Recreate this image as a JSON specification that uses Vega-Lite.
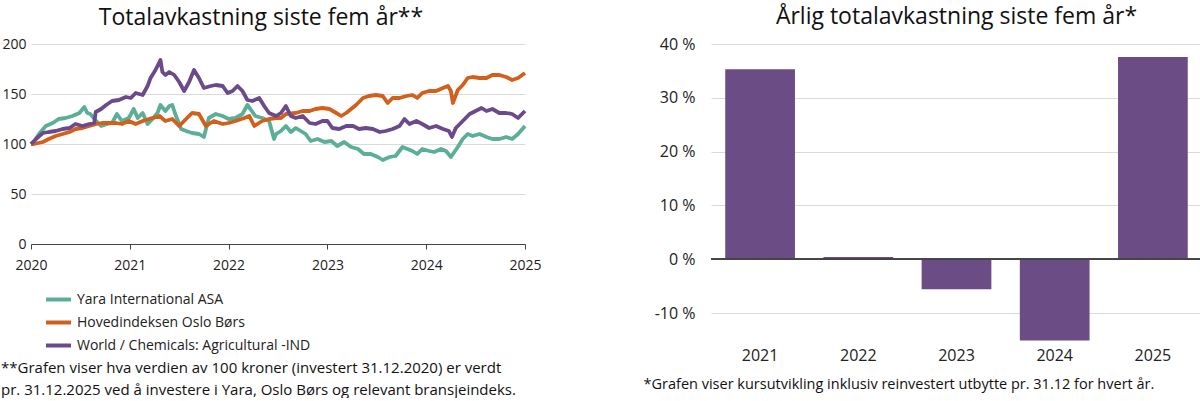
{
  "$schema": "https://vega.github.io/schema/vega-lite/v6.json",
  "padding": {"left": 1, "top": 6, "right": 0, "bottom": 0},
  "background": "white",
  "config": {
    "font": "Open Sans",
    "view": {"stroke": null},
    "title": {"fontSize": 23, "fontWeight": "normal", "color": "#111111", "font": "Open Sans"},
    "axis": {"labelFont": "Open Sans", "titleFont": "Open Sans", "labelColor": "#222222", "gridColor": "#dadada", "titleColor": "#111111"},
    "legend": {"labelFont": "Open Sans", "titleFont": "Open Sans", "labelColor": "#222222", "titleColor": "#111111"}
  },
  "spacing": 101,
  "hconcat": [
    {
      "width": 494,
      "height": 200,
      "title": {"text": "Totalavkastning siste fem år**", "offset": 7, "dx": -17},
      "data": {"values": [
        {"t": 2020.00, "s": "Yara International ASA", "v": 100},
        {"t": 2020.03, "s": "Yara International ASA", "v": 102},
        {"t": 2020.08, "s": "Yara International ASA", "v": 110},
        {"t": 2020.15, "s": "Yara International ASA", "v": 118},
        {"t": 2020.22, "s": "Yara International ASA", "v": 121},
        {"t": 2020.28, "s": "Yara International ASA", "v": 125},
        {"t": 2020.35, "s": "Yara International ASA", "v": 126},
        {"t": 2020.42, "s": "Yara International ASA", "v": 128},
        {"t": 2020.49, "s": "Yara International ASA", "v": 131},
        {"t": 2020.54, "s": "Yara International ASA", "v": 137},
        {"t": 2020.57, "s": "Yara International ASA", "v": 131},
        {"t": 2020.60, "s": "Yara International ASA", "v": 130},
        {"t": 2020.66, "s": "Yara International ASA", "v": 123},
        {"t": 2020.71, "s": "Yara International ASA", "v": 118},
        {"t": 2020.77, "s": "Yara International ASA", "v": 120},
        {"t": 2020.82, "s": "Yara International ASA", "v": 121},
        {"t": 2020.87, "s": "Yara International ASA", "v": 130},
        {"t": 2020.92, "s": "Yara International ASA", "v": 123},
        {"t": 2020.99, "s": "Yara International ASA", "v": 126},
        {"t": 2021.04, "s": "Yara International ASA", "v": 135},
        {"t": 2021.08, "s": "Yara International ASA", "v": 126},
        {"t": 2021.13, "s": "Yara International ASA", "v": 131},
        {"t": 2021.18, "s": "Yara International ASA", "v": 120},
        {"t": 2021.23, "s": "Yara International ASA", "v": 125},
        {"t": 2021.28, "s": "Yara International ASA", "v": 131},
        {"t": 2021.31, "s": "Yara International ASA", "v": 139},
        {"t": 2021.36, "s": "Yara International ASA", "v": 133},
        {"t": 2021.40, "s": "Yara International ASA", "v": 138},
        {"t": 2021.43, "s": "Yara International ASA", "v": 139},
        {"t": 2021.46, "s": "Yara International ASA", "v": 130},
        {"t": 2021.52, "s": "Yara International ASA", "v": 115},
        {"t": 2021.57, "s": "Yara International ASA", "v": 113},
        {"t": 2021.63, "s": "Yara International ASA", "v": 111},
        {"t": 2021.70, "s": "Yara International ASA", "v": 110},
        {"t": 2021.75, "s": "Yara International ASA", "v": 107},
        {"t": 2021.80, "s": "Yara International ASA", "v": 126},
        {"t": 2021.87, "s": "Yara International ASA", "v": 130},
        {"t": 2021.94, "s": "Yara International ASA", "v": 128},
        {"t": 2022.00, "s": "Yara International ASA", "v": 125},
        {"t": 2022.07, "s": "Yara International ASA", "v": 126},
        {"t": 2022.14, "s": "Yara International ASA", "v": 130},
        {"t": 2022.19, "s": "Yara International ASA", "v": 139},
        {"t": 2022.22, "s": "Yara International ASA", "v": 135},
        {"t": 2022.27, "s": "Yara International ASA", "v": 128},
        {"t": 2022.34, "s": "Yara International ASA", "v": 126},
        {"t": 2022.41, "s": "Yara International ASA", "v": 123},
        {"t": 2022.46, "s": "Yara International ASA", "v": 105},
        {"t": 2022.48, "s": "Yara International ASA", "v": 110},
        {"t": 2022.53, "s": "Yara International ASA", "v": 113},
        {"t": 2022.58, "s": "Yara International ASA", "v": 118},
        {"t": 2022.63, "s": "Yara International ASA", "v": 112},
        {"t": 2022.68, "s": "Yara International ASA", "v": 116},
        {"t": 2022.73, "s": "Yara International ASA", "v": 113},
        {"t": 2022.78, "s": "Yara International ASA", "v": 110},
        {"t": 2022.83, "s": "Yara International ASA", "v": 103},
        {"t": 2022.90, "s": "Yara International ASA", "v": 105},
        {"t": 2022.97, "s": "Yara International ASA", "v": 102},
        {"t": 2023.04, "s": "Yara International ASA", "v": 103},
        {"t": 2023.10, "s": "Yara International ASA", "v": 98},
        {"t": 2023.17, "s": "Yara International ASA", "v": 102},
        {"t": 2023.24, "s": "Yara International ASA", "v": 97},
        {"t": 2023.31, "s": "Yara International ASA", "v": 95},
        {"t": 2023.37, "s": "Yara International ASA", "v": 90},
        {"t": 2023.44, "s": "Yara International ASA", "v": 90},
        {"t": 2023.51, "s": "Yara International ASA", "v": 87},
        {"t": 2023.56, "s": "Yara International ASA", "v": 84},
        {"t": 2023.63, "s": "Yara International ASA", "v": 87},
        {"t": 2023.69, "s": "Yara International ASA", "v": 88},
        {"t": 2023.76, "s": "Yara International ASA", "v": 97},
        {"t": 2023.81, "s": "Yara International ASA", "v": 95},
        {"t": 2023.86, "s": "Yara International ASA", "v": 93},
        {"t": 2023.91, "s": "Yara International ASA", "v": 90},
        {"t": 2023.96, "s": "Yara International ASA", "v": 95},
        {"t": 2024.03, "s": "Yara International ASA", "v": 93},
        {"t": 2024.08, "s": "Yara International ASA", "v": 92},
        {"t": 2024.15, "s": "Yara International ASA", "v": 95},
        {"t": 2024.20, "s": "Yara International ASA", "v": 93},
        {"t": 2024.25, "s": "Yara International ASA", "v": 87},
        {"t": 2024.32, "s": "Yara International ASA", "v": 97},
        {"t": 2024.37, "s": "Yara International ASA", "v": 105},
        {"t": 2024.42, "s": "Yara International ASA", "v": 110},
        {"t": 2024.47, "s": "Yara International ASA", "v": 108},
        {"t": 2024.54, "s": "Yara International ASA", "v": 110},
        {"t": 2024.61, "s": "Yara International ASA", "v": 107},
        {"t": 2024.67, "s": "Yara International ASA", "v": 105},
        {"t": 2024.74, "s": "Yara International ASA", "v": 105},
        {"t": 2024.81, "s": "Yara International ASA", "v": 107},
        {"t": 2024.87, "s": "Yara International ASA", "v": 105},
        {"t": 2024.93, "s": "Yara International ASA", "v": 110},
        {"t": 2025.00, "s": "Yara International ASA", "v": 118},
        {"t": 2020.00, "s": "Hovedindeksen Oslo Børs", "v": 100},
        {"t": 2020.03, "s": "Hovedindeksen Oslo Børs", "v": 100},
        {"t": 2020.12, "s": "Hovedindeksen Oslo Børs", "v": 102},
        {"t": 2020.18, "s": "Hovedindeksen Oslo Børs", "v": 105},
        {"t": 2020.25, "s": "Hovedindeksen Oslo Børs", "v": 108},
        {"t": 2020.32, "s": "Hovedindeksen Oslo Børs", "v": 110},
        {"t": 2020.39, "s": "Hovedindeksen Oslo Børs", "v": 112},
        {"t": 2020.45, "s": "Hovedindeksen Oslo Børs", "v": 115},
        {"t": 2020.52, "s": "Hovedindeksen Oslo Børs", "v": 116},
        {"t": 2020.59, "s": "Hovedindeksen Oslo Børs", "v": 118},
        {"t": 2020.66, "s": "Hovedindeksen Oslo Børs", "v": 120},
        {"t": 2020.72, "s": "Hovedindeksen Oslo Børs", "v": 121},
        {"t": 2020.79, "s": "Hovedindeksen Oslo Børs", "v": 121},
        {"t": 2020.86, "s": "Hovedindeksen Oslo Børs", "v": 121},
        {"t": 2020.92, "s": "Hovedindeksen Oslo Børs", "v": 120},
        {"t": 2020.99, "s": "Hovedindeksen Oslo Børs", "v": 123},
        {"t": 2021.06, "s": "Hovedindeksen Oslo Børs", "v": 120},
        {"t": 2021.13, "s": "Hovedindeksen Oslo Børs", "v": 123},
        {"t": 2021.23, "s": "Hovedindeksen Oslo Børs", "v": 126},
        {"t": 2021.30, "s": "Hovedindeksen Oslo Børs", "v": 128},
        {"t": 2021.36, "s": "Hovedindeksen Oslo Børs", "v": 123},
        {"t": 2021.43, "s": "Hovedindeksen Oslo Børs", "v": 125},
        {"t": 2021.50, "s": "Hovedindeksen Oslo Børs", "v": 118},
        {"t": 2021.57, "s": "Hovedindeksen Oslo Børs", "v": 125},
        {"t": 2021.63, "s": "Hovedindeksen Oslo Børs", "v": 131},
        {"t": 2021.70, "s": "Hovedindeksen Oslo Børs", "v": 130},
        {"t": 2021.77, "s": "Hovedindeksen Oslo Børs", "v": 118},
        {"t": 2021.85, "s": "Hovedindeksen Oslo Børs", "v": 123},
        {"t": 2021.94, "s": "Hovedindeksen Oslo Børs", "v": 120},
        {"t": 2022.00, "s": "Hovedindeksen Oslo Børs", "v": 121},
        {"t": 2022.07, "s": "Hovedindeksen Oslo Børs", "v": 123},
        {"t": 2022.16, "s": "Hovedindeksen Oslo Børs", "v": 126},
        {"t": 2022.21, "s": "Hovedindeksen Oslo Børs", "v": 128},
        {"t": 2022.26, "s": "Hovedindeksen Oslo Børs", "v": 118},
        {"t": 2022.34, "s": "Hovedindeksen Oslo Børs", "v": 123},
        {"t": 2022.41, "s": "Hovedindeksen Oslo Børs", "v": 125},
        {"t": 2022.48, "s": "Hovedindeksen Oslo Børs", "v": 126},
        {"t": 2022.53, "s": "Hovedindeksen Oslo Børs", "v": 126},
        {"t": 2022.58, "s": "Hovedindeksen Oslo Børs", "v": 130},
        {"t": 2022.68, "s": "Hovedindeksen Oslo Børs", "v": 131},
        {"t": 2022.75, "s": "Hovedindeksen Oslo Børs", "v": 133},
        {"t": 2022.82, "s": "Hovedindeksen Oslo Børs", "v": 133},
        {"t": 2022.88, "s": "Hovedindeksen Oslo Børs", "v": 135},
        {"t": 2022.95, "s": "Hovedindeksen Oslo Børs", "v": 136},
        {"t": 2023.02, "s": "Hovedindeksen Oslo Børs", "v": 135},
        {"t": 2023.09, "s": "Hovedindeksen Oslo Børs", "v": 131},
        {"t": 2023.14, "s": "Hovedindeksen Oslo Børs", "v": 128},
        {"t": 2023.19, "s": "Hovedindeksen Oslo Børs", "v": 131},
        {"t": 2023.24, "s": "Hovedindeksen Oslo Børs", "v": 135},
        {"t": 2023.29, "s": "Hovedindeksen Oslo Børs", "v": 139},
        {"t": 2023.36, "s": "Hovedindeksen Oslo Børs", "v": 146},
        {"t": 2023.42, "s": "Hovedindeksen Oslo Børs", "v": 148},
        {"t": 2023.49, "s": "Hovedindeksen Oslo Børs", "v": 149},
        {"t": 2023.56, "s": "Hovedindeksen Oslo Børs", "v": 148},
        {"t": 2023.61, "s": "Hovedindeksen Oslo Børs", "v": 141},
        {"t": 2023.66, "s": "Hovedindeksen Oslo Børs", "v": 146},
        {"t": 2023.73, "s": "Hovedindeksen Oslo Børs", "v": 146},
        {"t": 2023.80, "s": "Hovedindeksen Oslo Børs", "v": 148},
        {"t": 2023.86, "s": "Hovedindeksen Oslo Børs", "v": 149},
        {"t": 2023.91, "s": "Hovedindeksen Oslo Børs", "v": 146},
        {"t": 2023.96, "s": "Hovedindeksen Oslo Børs", "v": 151},
        {"t": 2024.03, "s": "Hovedindeksen Oslo Børs", "v": 153},
        {"t": 2024.10, "s": "Hovedindeksen Oslo Børs", "v": 153},
        {"t": 2024.17, "s": "Hovedindeksen Oslo Børs", "v": 156},
        {"t": 2024.22, "s": "Hovedindeksen Oslo Børs", "v": 158},
        {"t": 2024.25, "s": "Hovedindeksen Oslo Børs", "v": 153},
        {"t": 2024.27, "s": "Hovedindeksen Oslo Børs", "v": 141},
        {"t": 2024.32, "s": "Hovedindeksen Oslo Børs", "v": 154},
        {"t": 2024.37, "s": "Hovedindeksen Oslo Børs", "v": 159},
        {"t": 2024.42, "s": "Hovedindeksen Oslo Børs", "v": 166},
        {"t": 2024.47, "s": "Hovedindeksen Oslo Børs", "v": 167},
        {"t": 2024.54, "s": "Hovedindeksen Oslo Børs", "v": 166},
        {"t": 2024.61, "s": "Hovedindeksen Oslo Børs", "v": 166},
        {"t": 2024.67, "s": "Hovedindeksen Oslo Børs", "v": 169},
        {"t": 2024.74, "s": "Hovedindeksen Oslo Børs", "v": 169},
        {"t": 2024.81, "s": "Hovedindeksen Oslo Børs", "v": 167},
        {"t": 2024.87, "s": "Hovedindeksen Oslo Børs", "v": 164},
        {"t": 2024.93, "s": "Hovedindeksen Oslo Børs", "v": 166},
        {"t": 2025.00, "s": "Hovedindeksen Oslo Børs", "v": 171},
        {"t": 2020.00, "s": "World / Chemicals: Agricultural -IND", "v": 100},
        {"t": 2020.05, "s": "World / Chemicals: Agricultural -IND", "v": 105},
        {"t": 2020.12, "s": "World / Chemicals: Agricultural -IND", "v": 111},
        {"t": 2020.18, "s": "World / Chemicals: Agricultural -IND", "v": 112},
        {"t": 2020.25, "s": "World / Chemicals: Agricultural -IND", "v": 113},
        {"t": 2020.32, "s": "World / Chemicals: Agricultural -IND", "v": 115},
        {"t": 2020.39, "s": "World / Chemicals: Agricultural -IND", "v": 116},
        {"t": 2020.45, "s": "World / Chemicals: Agricultural -IND", "v": 120},
        {"t": 2020.52, "s": "World / Chemicals: Agricultural -IND", "v": 118},
        {"t": 2020.59, "s": "World / Chemicals: Agricultural -IND", "v": 120},
        {"t": 2020.64, "s": "World / Chemicals: Agricultural -IND", "v": 121},
        {"t": 2020.655, "s": "World / Chemicals: Agricultural -IND", "v": 132},
        {"t": 2020.71, "s": "World / Chemicals: Agricultural -IND", "v": 135},
        {"t": 2020.76, "s": "World / Chemicals: Agricultural -IND", "v": 139},
        {"t": 2020.82, "s": "World / Chemicals: Agricultural -IND", "v": 143},
        {"t": 2020.89, "s": "World / Chemicals: Agricultural -IND", "v": 144},
        {"t": 2020.96, "s": "World / Chemicals: Agricultural -IND", "v": 147},
        {"t": 2021.01, "s": "World / Chemicals: Agricultural -IND", "v": 146},
        {"t": 2021.06, "s": "World / Chemicals: Agricultural -IND", "v": 151},
        {"t": 2021.13, "s": "World / Chemicals: Agricultural -IND", "v": 149},
        {"t": 2021.18, "s": "World / Chemicals: Agricultural -IND", "v": 158},
        {"t": 2021.21, "s": "World / Chemicals: Agricultural -IND", "v": 166},
        {"t": 2021.26, "s": "World / Chemicals: Agricultural -IND", "v": 174},
        {"t": 2021.31, "s": "World / Chemicals: Agricultural -IND", "v": 184},
        {"t": 2021.33, "s": "World / Chemicals: Agricultural -IND", "v": 172},
        {"t": 2021.36, "s": "World / Chemicals: Agricultural -IND", "v": 169},
        {"t": 2021.40, "s": "World / Chemicals: Agricultural -IND", "v": 172},
        {"t": 2021.45, "s": "World / Chemicals: Agricultural -IND", "v": 169},
        {"t": 2021.50, "s": "World / Chemicals: Agricultural -IND", "v": 162},
        {"t": 2021.55, "s": "World / Chemicals: Agricultural -IND", "v": 153},
        {"t": 2021.60, "s": "World / Chemicals: Agricultural -IND", "v": 162},
        {"t": 2021.65, "s": "World / Chemicals: Agricultural -IND", "v": 174},
        {"t": 2021.70, "s": "World / Chemicals: Agricultural -IND", "v": 166},
        {"t": 2021.75, "s": "World / Chemicals: Agricultural -IND", "v": 156},
        {"t": 2021.82, "s": "World / Chemicals: Agricultural -IND", "v": 158},
        {"t": 2021.87, "s": "World / Chemicals: Agricultural -IND", "v": 159},
        {"t": 2021.94, "s": "World / Chemicals: Agricultural -IND", "v": 158},
        {"t": 2021.99, "s": "World / Chemicals: Agricultural -IND", "v": 151},
        {"t": 2022.04, "s": "World / Chemicals: Agricultural -IND", "v": 153},
        {"t": 2022.09, "s": "World / Chemicals: Agricultural -IND", "v": 158},
        {"t": 2022.14, "s": "World / Chemicals: Agricultural -IND", "v": 153},
        {"t": 2022.19, "s": "World / Chemicals: Agricultural -IND", "v": 144},
        {"t": 2022.24, "s": "World / Chemicals: Agricultural -IND", "v": 143},
        {"t": 2022.31, "s": "World / Chemicals: Agricultural -IND", "v": 146},
        {"t": 2022.36, "s": "World / Chemicals: Agricultural -IND", "v": 138},
        {"t": 2022.41, "s": "World / Chemicals: Agricultural -IND", "v": 131},
        {"t": 2022.48, "s": "World / Chemicals: Agricultural -IND", "v": 128},
        {"t": 2022.53, "s": "World / Chemicals: Agricultural -IND", "v": 131},
        {"t": 2022.58, "s": "World / Chemicals: Agricultural -IND", "v": 138},
        {"t": 2022.63, "s": "World / Chemicals: Agricultural -IND", "v": 128},
        {"t": 2022.68, "s": "World / Chemicals: Agricultural -IND", "v": 126},
        {"t": 2022.75, "s": "World / Chemicals: Agricultural -IND", "v": 128},
        {"t": 2022.82, "s": "World / Chemicals: Agricultural -IND", "v": 121},
        {"t": 2022.88, "s": "World / Chemicals: Agricultural -IND", "v": 120},
        {"t": 2022.95, "s": "World / Chemicals: Agricultural -IND", "v": 123},
        {"t": 2023.00, "s": "World / Chemicals: Agricultural -IND", "v": 123},
        {"t": 2023.05, "s": "World / Chemicals: Agricultural -IND", "v": 116},
        {"t": 2023.12, "s": "World / Chemicals: Agricultural -IND", "v": 115},
        {"t": 2023.19, "s": "World / Chemicals: Agricultural -IND", "v": 118},
        {"t": 2023.26, "s": "World / Chemicals: Agricultural -IND", "v": 118},
        {"t": 2023.32, "s": "World / Chemicals: Agricultural -IND", "v": 115},
        {"t": 2023.39, "s": "World / Chemicals: Agricultural -IND", "v": 116},
        {"t": 2023.46, "s": "World / Chemicals: Agricultural -IND", "v": 115},
        {"t": 2023.53, "s": "World / Chemicals: Agricultural -IND", "v": 112},
        {"t": 2023.59, "s": "World / Chemicals: Agricultural -IND", "v": 113},
        {"t": 2023.66, "s": "World / Chemicals: Agricultural -IND", "v": 115},
        {"t": 2023.73, "s": "World / Chemicals: Agricultural -IND", "v": 118},
        {"t": 2023.78, "s": "World / Chemicals: Agricultural -IND", "v": 125},
        {"t": 2023.83, "s": "World / Chemicals: Agricultural -IND", "v": 120},
        {"t": 2023.90, "s": "World / Chemicals: Agricultural -IND", "v": 123},
        {"t": 2023.96, "s": "World / Chemicals: Agricultural -IND", "v": 120},
        {"t": 2024.03, "s": "World / Chemicals: Agricultural -IND", "v": 116},
        {"t": 2024.10, "s": "World / Chemicals: Agricultural -IND", "v": 118},
        {"t": 2024.17, "s": "World / Chemicals: Agricultural -IND", "v": 115},
        {"t": 2024.23, "s": "World / Chemicals: Agricultural -IND", "v": 113},
        {"t": 2024.26, "s": "World / Chemicals: Agricultural -IND", "v": 107},
        {"t": 2024.30, "s": "World / Chemicals: Agricultural -IND", "v": 116},
        {"t": 2024.37, "s": "World / Chemicals: Agricultural -IND", "v": 123},
        {"t": 2024.44, "s": "World / Chemicals: Agricultural -IND", "v": 130},
        {"t": 2024.50, "s": "World / Chemicals: Agricultural -IND", "v": 133},
        {"t": 2024.56, "s": "World / Chemicals: Agricultural -IND", "v": 136},
        {"t": 2024.61, "s": "World / Chemicals: Agricultural -IND", "v": 133},
        {"t": 2024.67, "s": "World / Chemicals: Agricultural -IND", "v": 135},
        {"t": 2024.74, "s": "World / Chemicals: Agricultural -IND", "v": 131},
        {"t": 2024.81, "s": "World / Chemicals: Agricultural -IND", "v": 131},
        {"t": 2024.87, "s": "World / Chemicals: Agricultural -IND", "v": 130},
        {"t": 2024.93, "s": "World / Chemicals: Agricultural -IND", "v": 126},
        {"t": 2025.00, "s": "World / Chemicals: Agricultural -IND", "v": 133}
      ]},
      "mark": {"type": "line", "strokeWidth": 3.8, "strokeJoin": "round"},
      "encoding": {
        "x": {
          "field": "t", "type": "quantitative",
          "scale": {"domain": [2020, 2025], "nice": false, "zero": false},
          "axis": {"values": [2020, 2021, 2022, 2023, 2024, 2025], "format": "d", "title": null, "grid": false, "domainColor": "#444444", "tickColor": "#444444", "tickSize": 5, "labelFontSize": 14, "labelPadding": 9, "labelFlush": false}
        },
        "y": {
          "field": "v", "type": "quantitative",
          "scale": {"domain": [0, 200], "nice": false},
          "axis": {"values": [0, 50, 100, 150, 200], "title": null, "domain": false, "ticks": false, "labelFontSize": 14, "labelPadding": 5}
        },
        "color": {
          "field": "s", "type": "nominal",
          "scale": {"domain": ["Yara International ASA", "Hovedindeksen Oslo Børs", "World / Chemicals: Agricultural -IND"], "range": ["#5bae97", "#d2601d", "#6b4a8c"]},
          "legend": {
            "orient": "none", "legendX": -30, "legendY": 241, "direction": "vertical",
            "title": ["**Grafen viser hva verdien av 100 kroner (investert 31.12.2020) er verdt", "pr. 31.12.2025 ved å investere i Yara, Oslo Børs og relevant bransjeindeks."],
            "titleOrient": "bottom", "titleAnchor": "start", "titleFontSize": 15, "titleFontWeight": "normal", "titleLimit": 700, "titleLineHeight": 22, "titlePadding": 7,
            "symbolType": "stroke", "symbolStrokeWidth": 4, "symbolSize": 625, "symbolOffset": 43,
            "labelFontSize": 14, "labelLimit": 400, "rowPadding": -7
          }
        }
      }
    },
    {
      "width": 491,
      "height": 297,
      "title": {"text": "Årlig totalavkastning siste fem år*", "offset": 7},
      "data": {"values": [
        {"year": "2021", "r": 35.3},
        {"year": "2022", "r": 0.4},
        {"year": "2023", "r": -5.6},
        {"year": "2024", "r": -15.1},
        {"year": "2025", "r": 37.6}
      ]},
      "layer": [
        {
          "mark": {"type": "bar", "color": "#6b4c85"},
          "encoding": {
            "x": {
              "field": "year", "type": "ordinal",
              "scale": {"paddingInner": 0.29, "paddingOuter": 0.145},
              "axis": {"title": "*Grafen viser kursutvikling inklusiv reinvestert utbytte pr. 31.12 for hvert år.", "titleFontSize": 14.5, "titleFontWeight": "normal", "titleAnchor": "start", "titleAlign": "left", "titleX": -68, "titlePadding": 14, "labelFontSize": 16, "labelPadding": 6, "labelAngle": 0, "ticks": false, "domain": false}
            },
            "y": {
              "field": "r", "type": "quantitative",
              "scale": {"domain": [-15.2, 40], "nice": false, "zero": false},
              "axis": {"values": [-10, 0, 10, 20, 30, 40], "labelExpr": "datum.value + ' %'", "title": null, "domain": false, "ticks": false, "labelFontSize": 16, "labelPadding": 16}
            }
          }
        },
        {
          "mark": {"type": "rule", "color": "#444444", "strokeWidth": 1.2},
          "encoding": {"y": {"datum": 0}}
        }
      ]
    }
  ]
}
